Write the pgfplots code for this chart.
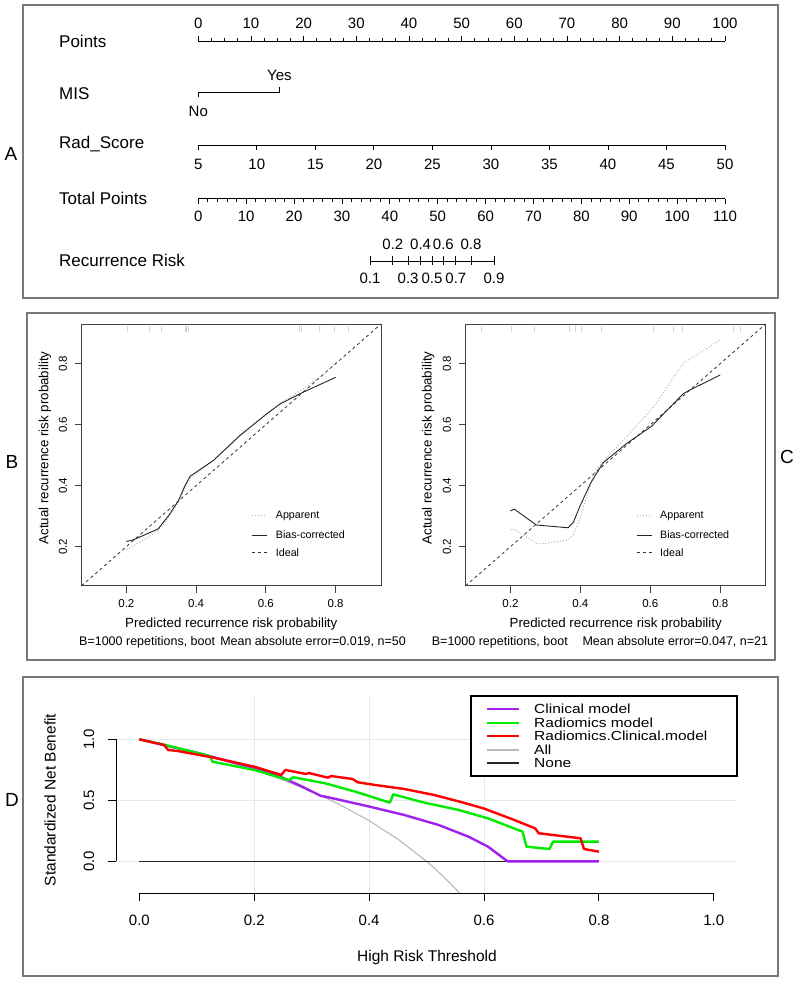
\documentclass[border=0pt]{standalone}
\usepackage{fontspec}
\setmainfont{Liberation Sans}
\usepackage{pgfplots}
\pgfplotsset{compat=1.18}

\definecolor{rpurple}{RGB}{160,32,240}
\definecolor{rgreen}{RGB}{0,235,0}
\definecolor{rred}{RGB}{255,0,0}
\definecolor{rgray}{RGB}{185,185,185}
\definecolor{gridc}{RGB}{232,232,232}
\definecolor{boxc}{RGB}{120,120,120}

\newcommand{\fsz}[1]{\fontsize{#1}{#1}\selectfont}

\pgfplotsset{
  nomo/.style={scale only axis, width=526.7pt, height=2pt, ymin=0, ymax=1,
    enlargelimits=false, clip=false, tick align=outside,
    major tick length=5pt, minor tick length=3pt,
    tick style={black, line width=0.8pt}, axis line style={black, line width=0.8pt},
    xticklabels={}, axis y line=none},
  calib/.style={scale only axis, width=299.3pt, height=261.7pt,
    xmin=0.072, xmax=0.93, ymin=0.072, ymax=0.93,
    xtick={0.2,0.4,0.6,0.8}, ytick={0.2,0.4,0.6,0.8},
    xticklabels={}, yticklabels={}, tick align=outside,
    xtick pos=left, ytick pos=left, major tick length=7pt,
    axis line style={black!75, line width=0.9pt},
    tick style={black!75, line width=0.8pt}, clip=false},
}

\begin{document}
\begin{tikzpicture}
\path[use as bounding box] (0,0) rectangle (800pt,988pt);
\fill[white] (0,0) rectangle (800pt,988pt);

% panel frames
\draw[boxc, line width=1.4pt] (23pt,690pt) rectangle (778pt,983pt);
\draw[boxc, line width=1.4pt] (27pt,328pt) rectangle (775pt,675pt);
\draw[boxc, line width=1.4pt] (23pt,12pt) rectangle (778pt,311pt);

% panel letters
\node[font={\fsz{19}}] at (11pt,834pt) {A};
\node[font={\fsz{19}}] at (12pt,526pt) {B};
\node[font={\fsz{19}}] at (787pt,531pt) {C};
\node[font={\fsz{19}}] at (12pt,188pt) {D};

% ================= Panel A : nomogram =================
\node[font={\fsz{17}}, anchor=west, inner sep=0pt] at (59pt,946.3pt) {Points};
\node[font={\fsz{17}}, anchor=west, inner sep=0pt] at (59pt,894pt) {MIS};
\node[font={\fsz{17}}, anchor=west, inner sep=0pt] at (59pt,844pt) {Rad\_Score};
\node[font={\fsz{17}}, anchor=west, inner sep=0pt] at (59pt,789.7pt) {Total Points};
\node[font={\fsz{17}}, anchor=west, inner sep=0pt] at (59pt,728pt) {Recurrence Risk};

% Points
\begin{axis}[nomo, at={(198.3pt,947pt)}, anchor=north west, xmin=0, xmax=100,
  axis x line*=top, xtick={0,10,...,100}, minor x tick num=3]
\addplot[draw=none] coordinates {(0,0) (100,1)};
\pgfplotsinvokeforeach{0,10,...,100}{\node[font={\fsz{15}}, inner sep=0pt] at ([yshift=17.7pt]axis cs:#1,1) {#1};}
\end{axis}

% MIS
\begin{axis}[scale only axis, hide axis, clip=false, at={(198.3pt,890.7pt)}, anchor=south west,
  width=81.1pt, height=10pt, xmin=0, xmax=15.4, ymin=-5, ymax=5]
\addplot[black, line width=0.8pt] coordinates {(0,-5) (0,0) (15.4,0) (15.4,5)};
\node[font={\fsz{15}}, inner sep=0pt] at ([yshift=16.6pt]axis cs:15.4,0) {Yes};
\node[font={\fsz{15}}, inner sep=0pt] at ([yshift=-18.7pt]axis cs:0,0) {No};
\end{axis}

% Rad_Score
\begin{axis}[nomo, at={(198.3pt,842.7pt)}, anchor=south west, xmin=5, xmax=50,
  axis x line*=bottom, xtick={5,10,...,50}]
\addplot[draw=none] coordinates {(5,0) (50,1)};
\pgfplotsinvokeforeach{5,10,...,50}{\node[font={\fsz{15}}, inner sep=0pt] at ([yshift=-18.7pt]axis cs:#1,0) {#1};}
\end{axis}

% Total Points
\begin{axis}[nomo, at={(198.3pt,789.2pt)}, anchor=south west, xmin=0, xmax=110,
  axis x line*=bottom, xtick={0,10,...,110}, minor x tick num=4]
\addplot[draw=none] coordinates {(0,0) (110,1)};
\pgfplotsinvokeforeach{0,10,...,110}{\node[font={\fsz{15}}, inner sep=0pt] at ([yshift=-17.2pt]axis cs:#1,0) {#1};}
\end{axis}

% Recurrence Risk (positions in Total Points)
\begin{axis}[scale only axis, hide axis, clip=false, at={(370pt,722pt)}, anchor=south west,
  width=124pt, height=10pt, xmin=35.86, xmax=61.76, ymin=-5, ymax=5]
\addplot[black, line width=0.8pt] coordinates {(35.86,0) (61.76,0)};
\addplot[black, only marks, mark=|, mark size=4.5pt, mark options={line width=0.8pt}] coordinates {
 (35.86,0) (40.64,0) (43.82,0) (46.43,0) (48.81,0) (51.19,0) (53.80,0) (56.97,0) (61.76,0)};
\node[font={\fsz{15}}, inner sep=0pt] at ([yshift=17pt]axis cs:40.64,0) {0.2};
\node[font={\fsz{15}}, inner sep=0pt] at ([yshift=17pt]axis cs:46.43,0) {0.4};
\node[font={\fsz{15}}, inner sep=0pt] at ([yshift=17pt]axis cs:51.19,0) {0.6};
\node[font={\fsz{15}}, inner sep=0pt] at ([yshift=17pt]axis cs:56.97,0) {0.8};
\node[font={\fsz{15}}, inner sep=0pt] at ([yshift=-17pt]axis cs:35.86,0) {0.1};
\node[font={\fsz{15}}, inner sep=0pt] at ([yshift=-17pt]axis cs:43.82,0) {0.3};
\node[font={\fsz{15}}, inner sep=0pt] at ([yshift=-17pt]axis cs:48.81,0) {0.5};
\node[font={\fsz{15}}, inner sep=0pt] at ([yshift=-17pt]axis cs:53.80,0) {0.7};
\node[font={\fsz{15}}, inner sep=0pt] at ([yshift=-17pt]axis cs:61.76,0) {0.9};
\end{axis}

% ================= Panel B =================
\begin{axis}[calib, at={(81.7pt,402.3pt)}, anchor=south west]
\addplot[gray!35, only marks, mark=|, mark size=3pt] coordinates {
 (0.203,0.915) (0.265,0.915) (0.300,0.915) (0.368,0.915) (0.373,0.915) (0.377,0.915)
 (0.696,0.915) (0.702,0.915) (0.753,0.915) (0.796,0.915) (0.836,0.915)};
\addplot[black!80, line width=0.8pt, dash pattern=on 3pt off 3pt] coordinates {(0.072,0.072) (0.93,0.93)};
\addplot[gray!60, line width=1pt, dash pattern=on 1pt off 2pt] coordinates {
 (0.2,0.189) (0.25,0.222) (0.291,0.252) (0.32,0.295) (0.349,0.345) (0.368,0.39)
 (0.383,0.425) (0.45,0.483) (0.526,0.563) (0.603,0.636) (0.641,0.67) (0.703,0.714)
 (0.775,0.775) (0.8,0.803)};
\addplot[black!85, line width=0.9pt] coordinates {
 (0.2,0.217) (0.219,0.222) (0.291,0.258) (0.32,0.3) (0.349,0.35) (0.368,0.4)
 (0.383,0.431) (0.45,0.483) (0.526,0.565) (0.603,0.636) (0.641,0.668) (0.697,0.701)
 (0.727,0.717) (0.8,0.755)};
\node[font={\fsz{11.5}}] at ([yshift=-18.3pt]axis cs:0.2,0.072) {0.2};
\node[font={\fsz{11.5}}] at ([yshift=-18.3pt]axis cs:0.4,0.072) {0.4};
\node[font={\fsz{11.5}}] at ([yshift=-18.3pt]axis cs:0.6,0.072) {0.6};
\node[font={\fsz{11.5}}] at ([yshift=-18.3pt]axis cs:0.8,0.072) {0.8};
\node[font={\fsz{11.5}}, rotate=90] at ([xshift=-18.7pt]axis cs:0.072,0.2) {0.2};
\node[font={\fsz{11.5}}, rotate=90] at ([xshift=-18.7pt]axis cs:0.072,0.4) {0.4};
\node[font={\fsz{11.5}}, rotate=90] at ([xshift=-18.7pt]axis cs:0.072,0.6) {0.6};
\node[font={\fsz{11.5}}, rotate=90] at ([xshift=-18.7pt]axis cs:0.072,0.8) {0.8};
\end{axis}

% ================= Panel C =================
\begin{axis}[calib, at={(465.7pt,402.3pt)}, anchor=south west, width=300pt]
\addplot[gray!35, only marks, mark=|, mark size=3pt] coordinates {
 (0.116,0.915) (0.202,0.915) (0.269,0.915) (0.369,0.915) (0.384,0.915) (0.403,0.915)
 (0.46,0.915) (0.608,0.915) (0.665,0.915) (0.69,0.915) (0.837,0.915) (0.857,0.915)};
\addplot[black!80, line width=0.8pt, dash pattern=on 3pt off 3pt] coordinates {(0.072,0.072) (0.93,0.93)};
\addplot[gray!60, line width=1pt, dash pattern=on 1pt off 2pt] coordinates {
 (0.2,0.255) (0.211,0.257) (0.274,0.211) (0.302,0.211) (0.365,0.222) (0.38,0.24)
 (0.398,0.29) (0.417,0.36) (0.44,0.44) (0.465,0.48) (0.532,0.56) (0.609,0.658)
 (0.695,0.802) (0.8,0.878)};
\addplot[black!85, line width=0.9pt] coordinates {
 (0.2,0.317) (0.211,0.323) (0.274,0.271) (0.365,0.262) (0.38,0.28) (0.398,0.331)
 (0.43,0.41) (0.465,0.475) (0.532,0.538) (0.604,0.595) (0.65,0.65) (0.695,0.702)
 (0.714,0.714) (0.8,0.763)};
\node[font={\fsz{11.5}}] at ([yshift=-18.3pt]axis cs:0.2,0.072) {0.2};
\node[font={\fsz{11.5}}] at ([yshift=-18.3pt]axis cs:0.4,0.072) {0.4};
\node[font={\fsz{11.5}}] at ([yshift=-18.3pt]axis cs:0.6,0.072) {0.6};
\node[font={\fsz{11.5}}] at ([yshift=-18.3pt]axis cs:0.8,0.072) {0.8};
\node[font={\fsz{11.5}}, rotate=90] at ([xshift=-18.7pt]axis cs:0.072,0.2) {0.2};
\node[font={\fsz{11.5}}, rotate=90] at ([xshift=-18.7pt]axis cs:0.072,0.4) {0.4};
\node[font={\fsz{11.5}}, rotate=90] at ([xshift=-18.7pt]axis cs:0.072,0.6) {0.6};
\node[font={\fsz{11.5}}, rotate=90] at ([xshift=-18.7pt]axis cs:0.072,0.8) {0.8};
\end{axis}

% B/C legends and labels
\foreach \lx/\tx in {251.7/275.7, 636.7/660} {
  \draw[gray!60, line width=1pt, dash pattern=on 1pt off 2pt] (\lx pt,472pt) -- ++(15pt,0);
  \draw[black!85, line width=0.9pt] (\lx pt,453pt) -- ++(15pt,0);
  \draw[black!80, line width=0.8pt, dash pattern=on 3pt off 3pt] (\lx pt,435.3pt) -- ++(15pt,0);
  \node[font={\fsz{10.7}}, anchor=west, inner sep=0pt] at (\tx pt,472pt) {Apparent};
  \node[font={\fsz{10.7}}, anchor=west, inner sep=0pt] at (\tx pt,453pt) {Bias-corrected};
  \node[font={\fsz{10.7}}, anchor=west, inner sep=0pt] at (\tx pt,435.3pt) {Ideal};
}
\node[font={\fsz{13.3}}] at (231.3pt,364pt) {Predicted recurrence risk probability};
\node[font={\fsz{13.3}}] at (615.7pt,364pt) {Predicted recurrence risk probability};
\node[font={\fsz{13.3}}, rotate=90] at (45pt,540pt) {Actual recurrence risk probability};
\node[font={\fsz{13.3}}, rotate=90] at (428.3pt,540pt) {Actual recurrence risk probability};
\node[font={\fsz{12.5}}, anchor=west, inner sep=0pt] at (79pt,346pt) {B=1000 repetitions, boot};
\node[font={\fsz{12.5}}, anchor=east, inner sep=0pt] at (406pt,346pt) {Mean absolute error=0.019, n=50};
\node[font={\fsz{12.5}}, anchor=west, inner sep=0pt] at (431.7pt,346pt) {B=1000 repetitions, boot};
\node[font={\fsz{12.5}}, anchor=east, inner sep=0pt] at (768.3pt,346pt) {Mean absolute error=0.047, n=21};

% ================= Panel D : DCA =================
\begin{axis}[scale only axis, at={(116.4pt,94.7pt)}, anchor=south west,
  width=620.4pt, height=196.3pt, xmin=-0.04, xmax=1.04, ymin=-0.262, ymax=1.347,
  axis line style={draw=none}, xtick={0,0.2,0.4,0.6,0.8,1}, ytick={0,0.5,1},
  xticklabels={}, yticklabels={}, tick align=outside, xtick pos=left, ytick pos=left,
  major tick length=8pt, tick style={black, line width=0.9pt}, clip=false]
% grid
\draw[gridc, line width=1pt] (axis cs:0.2,-0.262) -- (axis cs:0.2,1.347);
\draw[gridc, line width=1pt] (axis cs:0.4,-0.262) -- (axis cs:0.4,1.347);
\draw[gridc, line width=1pt] (axis cs:0.6,-0.262) -- (axis cs:0.6,1.347);
\draw[gridc, line width=1pt] (axis cs:-0.04,0) -- (axis cs:1.04,0);
\draw[gridc, line width=1pt] (axis cs:-0.04,0.5) -- (axis cs:1.04,0.5);
\draw[gridc, line width=1pt] (axis cs:-0.04,1) -- (axis cs:1.04,1);
% axis lines
\draw[black, line width=0.9pt] (axis cs:0,-0.262) -- (axis cs:1,-0.262);
\draw[black, line width=0.9pt] (axis cs:-0.04,0) -- (axis cs:-0.04,1);
% All
\addplot[rgray, line width=1.1pt] coordinates {
 (0,1) (0.1,0.889) (0.2,0.75) (0.25,0.667) (0.3,0.571) (0.35,0.462) (0.4,0.333)
 (0.45,0.182) (0.5,0) (0.52,-0.083) (0.54,-0.174) (0.557,-0.257)};
% None
\addplot[black!85, line width=1.4pt] coordinates {(0,0) (0.8,0)};
% Clinical
\addplot[rpurple, line width=2.4pt, line join=round] coordinates {
 (0,1.0) (0.1,0.89) (0.2,0.765) (0.238,0.71) (0.28,0.62) (0.316,0.536) (0.324,0.53)
 (0.401,0.448) (0.461,0.38) (0.521,0.298) (0.573,0.202) (0.607,0.12) (0.641,0.0) (0.8,0.0)};
% Radiomics
\addplot[rgreen, line width=2.4pt, line join=round] coordinates {
 (0,1.0) (0.045,0.954) (0.123,0.863) (0.127,0.817) (0.2,0.749) (0.26,0.667) (0.268,0.689)
 (0.324,0.639) (0.376,0.571) (0.436,0.481) (0.442,0.549) (0.496,0.481) (0.556,0.421)
 (0.607,0.352) (0.667,0.243) (0.674,0.12) (0.714,0.101) (0.72,0.161) (0.8,0.161)};
% Radiomics.Clinical
\addplot[rred, line width=2.4pt, line join=round] coordinates {
 (0,1.0) (0.043,0.954) (0.05,0.913) (0.067,0.904) (0.127,0.852) (0.2,0.776) (0.247,0.708)
 (0.254,0.749) (0.29,0.716) (0.295,0.724) (0.328,0.686) (0.334,0.699) (0.371,0.675)
 (0.38,0.648) (0.41,0.626) (0.461,0.593) (0.513,0.544) (0.564,0.481) (0.599,0.434)
 (0.65,0.344) (0.689,0.27) (0.695,0.23) (0.768,0.189) (0.774,0.101) (0.8,0.079)};
% tick labels
\pgfplotsinvokeforeach{0.0,0.2,0.4,0.6,0.8,1.0}{\node[font={\fsz{15}}] at ([yshift=-27.4pt]axis cs:#1,-0.262) {#1};}
\node[font={\fsz{15}}, rotate=90] at ([xshift=-27.4pt]axis cs:-0.04,0) {0.0};
\node[font={\fsz{15}}, rotate=90] at ([xshift=-27.4pt]axis cs:-0.04,0.5) {0.5};
\node[font={\fsz{15}}, rotate=90] at ([xshift=-27.4pt]axis cs:-0.04,1) {1.0};
\end{axis}

\node[font={\fsz{15.5}}] at (427pt,31pt) {High Risk Threshold};
\node[font={\fsz{15.5}}, rotate=90] at (50pt,188pt) {Standardized Net Benefit};

% D legend
\draw[black, line width=1.3pt, fill=white] (471pt,212pt) rectangle (737pt,292pt);
\draw[rpurple, line width=2.4pt] (487pt,279pt) -- (519pt,279pt);
\draw[rgreen, line width=2.4pt] (487pt,265pt) -- (519pt,265pt);
\draw[rred, line width=2.4pt] (487pt,252pt) -- (519pt,252pt);
\draw[rgray, line width=1.1pt] (487pt,238pt) -- (519pt,238pt);
\draw[black!85, line width=1.4pt] (487pt,225pt) -- (519pt,225pt);
\node[font={\fsz{15.5}}, yscale=0.85, anchor=west, inner sep=0pt] at (534pt,279pt) {Clinical model};
\node[font={\fsz{15.5}}, yscale=0.85, anchor=west, inner sep=0pt] at (534pt,265pt) {Radiomics model};
\node[font={\fsz{15.5}}, yscale=0.85, anchor=west, inner sep=0pt] at (534pt,252pt) {Radiomics.Clinical.model};
\node[font={\fsz{15.5}}, yscale=0.85, anchor=west, inner sep=0pt] at (534pt,238pt) {All};
\node[font={\fsz{15.5}}, yscale=0.85, anchor=west, inner sep=0pt] at (534pt,225pt) {None};
\end{tikzpicture}
\end{document}
